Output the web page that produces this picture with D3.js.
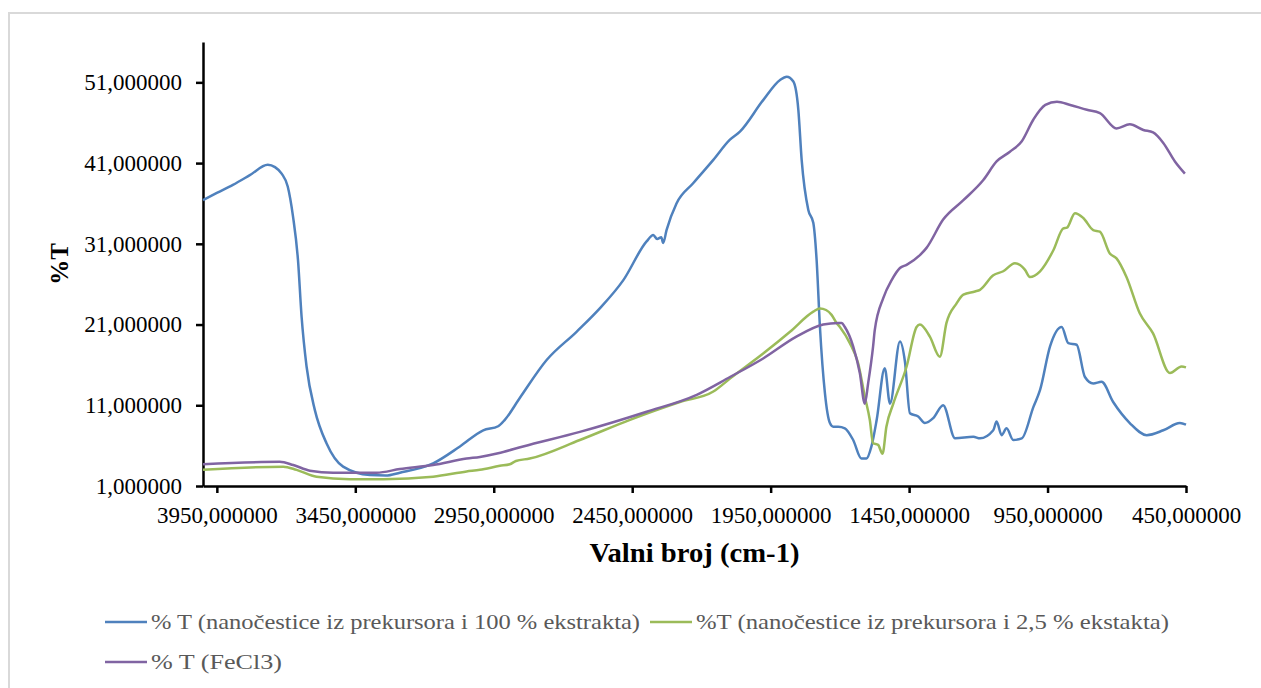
<!DOCTYPE html>
<html>
<head>
<meta charset="utf-8">
<script src="https://cdn.jsdelivr.net/npm/d3@7"></script>
<style>
  body { margin: 0; background: #fff; }
  svg text { font-family: "Liberation Serif", "Times New Roman", serif; }
</style>
</head>
<body>
<div id="chart"></div>
<script>
const width = 1261;
const height = 688;

// series names (legend order)
const seriesNames = [
  '% T (nanočestice iz prekursora i 100 % ekstrakta)',
  '%T (nanočestice iz prekursora i 2,5 % ekstakta)',
  '% T (FeCl3)'
];

// tick labels
const xTicks = [3950, 3450, 2950, 2450, 1950, 1450, 950, 450];
const yTicks = [1, 11, 21, 31, 41, 51];

// blue: 100 % extract
const wnBlue = [4000, 3950, 3892, 3831, 3766, 3740, 3716, 3694, 3675, 3657, 3644, 3626, 3596, 3554, 3494, 3397, 3340, 3289, 3169, 3072,
  2988, 2934, 2910, 2856, 2759, 2651, 2567, 2482, 2398, 2374, 2360, 2345, 2338, 2326, 2290, 2230, 2157, 2097, 2061, 1977,
  1916, 1892, 1868, 1850, 1838, 1814, 1796, 1784, 1772, 1754, 1736, 1724, 1706, 1682, 1652, 1622, 1604, 1586, 1567, 1538,
  1519, 1483, 1465, 1447, 1417, 1393, 1363, 1327, 1284, 1218, 1194, 1146, 1134, 1116, 1098, 1074, 1043, 1001, 977, 941,
  899, 875, 845, 815, 785, 755, 713, 653, 592, 532, 472, 450];
const tBlue = [36.4, 37.3, 38.3, 39.5, 40.8, 40.5, 39.7, 38.1, 34.4, 29.0, 22.0, 15.8, 10.4, 6.3, 3.4, 2.36, 2.3, 2.65, 3.8, 5.9,
  7.9, 8.4, 9.2, 11.9, 16.6, 20.1, 23.0, 26.5, 31.3, 32.1, 31.6, 31.8, 31.1, 32.7, 36.0, 38.5, 41.4, 43.9, 44.9, 48.8,
  51.3, 51.7, 51.1, 47.6, 41.4, 35.2, 33.6, 29.0, 20.7, 12.5, 8.8, 8.35, 8.35, 8.15, 6.7, 4.4, 4.4, 5.9, 9.2, 15.6,
  11.2, 18.9, 16.4, 10.0, 9.6, 8.8, 9.4, 11.0, 6.9, 7.1, 6.9, 7.9, 9.0, 7.3, 8.15, 6.7, 6.9, 10.8, 12.9, 18.3,
  20.7, 18.7, 18.5, 14.5, 13.7, 13.9, 11.4, 8.8, 7.3, 7.9, 8.8, 8.6];

// green: 2,5 % extract
const wnGreen = [4000, 3710, 3662, 3590, 3470, 3349, 3169, 3048, 3000, 2928, 2892, 2870, 2820, 2639, 2458, 2278, 2157, 2097, 1977, 1880,
  1796, 1772, 1750, 1730, 1712, 1700, 1664, 1634, 1610, 1592, 1580, 1562, 1546, 1532, 1507, 1459, 1423, 1411, 1375, 1339,
  1315, 1279, 1254, 1212, 1194, 1146, 1110, 1068, 1032, 1014, 977, 929, 893, 880, 851, 821, 785, 761, 725, 701,
  665, 617, 569, 508, 466, 450];
const tGreen = [3.0, 3.4, 3.0, 2.15, 1.85, 1.85, 2.15, 2.8, 3.0, 3.5, 3.7, 4.1, 4.4, 6.7, 9.2, 11.4, 12.7, 14.3, 17.4, 20.1,
  22.6, 23.0, 22.8, 22.2, 21.2, 20.7, 18.7, 16.2, 12.1, 9.2, 6.3, 6.1, 5.0, 8.35, 11.2, 15.8, 20.7, 21.0, 19.5, 17.0,
  21.2, 23.6, 24.7, 25.1, 25.3, 27.1, 27.6, 28.6, 27.8, 26.9, 27.6, 30.2, 32.9, 33.0, 34.8, 34.2, 32.7, 32.5, 29.8, 29.2,
  26.9, 22.4, 19.9, 15.0, 15.8, 15.7];

// purple: FeCl3
const wnPurple = [4000, 3723, 3674, 3614, 3530, 3373, 3289, 3169, 3048, 3000, 2934, 2844, 2639, 2398, 2217, 2097, 1977, 1857, 1760, 1706,
  1694, 1682, 1652, 1628, 1610, 1598, 1580, 1574, 1543, 1513, 1483, 1459, 1411, 1387, 1327, 1254, 1182, 1134, 1086, 1043,
  1001, 958, 916, 868, 808, 761, 701, 653, 604, 569, 532, 490, 454];
const tPurple = [3.7, 4.0, 3.6, 2.9, 2.65, 2.65, 3.1, 3.6, 4.4, 4.6, 5.05, 5.9, 7.7, 10.2, 12.3, 14.5, 16.8, 19.5, 21.0, 21.2,
  21.2, 20.7, 18.3, 15.0, 11.2, 13.7, 18.3, 20.3, 24.3, 26.5, 28.0, 28.4, 29.6, 30.5, 34.0, 36.4, 38.9, 41.2, 42.4, 43.7,
  46.4, 48.2, 48.6, 48.2, 47.6, 47.2, 45.3, 45.8, 45.1, 44.8, 43.5, 41.2, 39.7];

const colors = ['#4f81bd', '#9bbb59', '#8064a2'];
const series = [
  { name: seriesNames[0], color: colors[0], values: wnBlue.map((w, i) => [w, tBlue[i]]) },
  { name: seriesNames[1], color: colors[1], values: wnGreen.map((w, i) => [w, tGreen[i]]) },
  { name: seriesNames[2], color: colors[2], values: wnPurple.map((w, i) => [w, tPurple[i]]) }
];

const svg = d3.select('#chart')
  .append('svg')
  .attr('width', width)
  .attr('height', height);

// outer chart frame
svg.append('rect')
  .attr('x', 9)
  .attr('y', 13)
  .attr('width', width)
  .attr('height', height)
  .attr('fill', '#fff')
  .attr('stroke', '#d9d9d9')
  .attr('stroke-width', 2);

const x = d3.scaleLinear()
  .domain([4000, 450])
  .range([203, 1186]);

const y = d3.scaleLinear()
  .domain([1, 56])
  .range([486, 42]);

const fmt = d3.formatLocale({ decimal: ',', thousands: '.', grouping: [3], currency: ['', ''] }).format('.6f');

const xAxis = svg.append('g')
  .attr('transform', `translate(0,${y(1)})`)
  .call(d3.axisBottom(x).tickValues(xTicks).tickFormat(fmt).tickSize(7).tickSizeOuter(0).tickPadding(14));

const yAxis = svg.append('g')
  .attr('transform', `translate(${x(4000)},0)`)
  .call(d3.axisLeft(y).tickValues(yTicks).tickFormat(fmt).tickSize(7).tickSizeOuter(0).tickPadding(14));

[xAxis, yAxis].forEach(g => {
  g.attr('font-family', null);
  g.selectAll('path, line').attr('stroke', '#000').attr('stroke-width', 2.5);
  g.selectAll('text').attr('fill', '#000').style('font-size', '23px');
});

const line = d3.line()
  .x(d => x(d[0]))
  .y(d => y(d[1]))
  .curve(d3.curveMonotoneX);

svg.append('g')
  .selectAll('path')
  .data(series)
  .join('path')
  .attr('d', d => line(d.values))
  .attr('fill', 'none')
  .attr('stroke', d => d.color)
  .attr('stroke-width', 2.5)
  .attr('stroke-linejoin', 'round');

// axis titles
svg.append('text')
  .attr('x', (x.range()[0] + x.range()[1]) / 2)
  .attr('y', 562)
  .attr('text-anchor', 'middle')
  .attr('textLength', 210)
  .attr('lengthAdjust', 'spacingAndGlyphs')
  .style('font-size', '27px')
  .style('font-weight', 'bold')
  .text('Valni broj (cm-1)');

svg.append('text')
  .attr('transform', `translate(68,${(y.range()[0] + y.range()[1]) / 2}) rotate(-90)`)
  .attr('text-anchor', 'middle')
  .style('font-size', '25px')
  .style('font-weight', 'bold')
  .text('%T');

// legend
const legendPos = [[105, 622], [650, 622], [105, 662]];
const legendWidths = [489, 473, 131];
const legend = svg.append('g')
  .selectAll('g')
  .data(series)
  .join('g')
  .attr('transform', (d, i) => `translate(${legendPos[i][0]},${legendPos[i][1]})`);

legend.append('line')
  .attr('x1', 0)
  .attr('x2', 42)
  .attr('stroke', d => d.color)
  .attr('stroke-width', 2.5);

legend.append('text')
  .attr('x', 46)
  .attr('dy', '0.32em')
  .attr('fill', '#595959')
  .attr('textLength', (d, i) => legendWidths[i])
  .attr('lengthAdjust', 'spacingAndGlyphs')
  .style('font-size', '22px')
  .text(d => d.name);
</script>
</body>
</html>
